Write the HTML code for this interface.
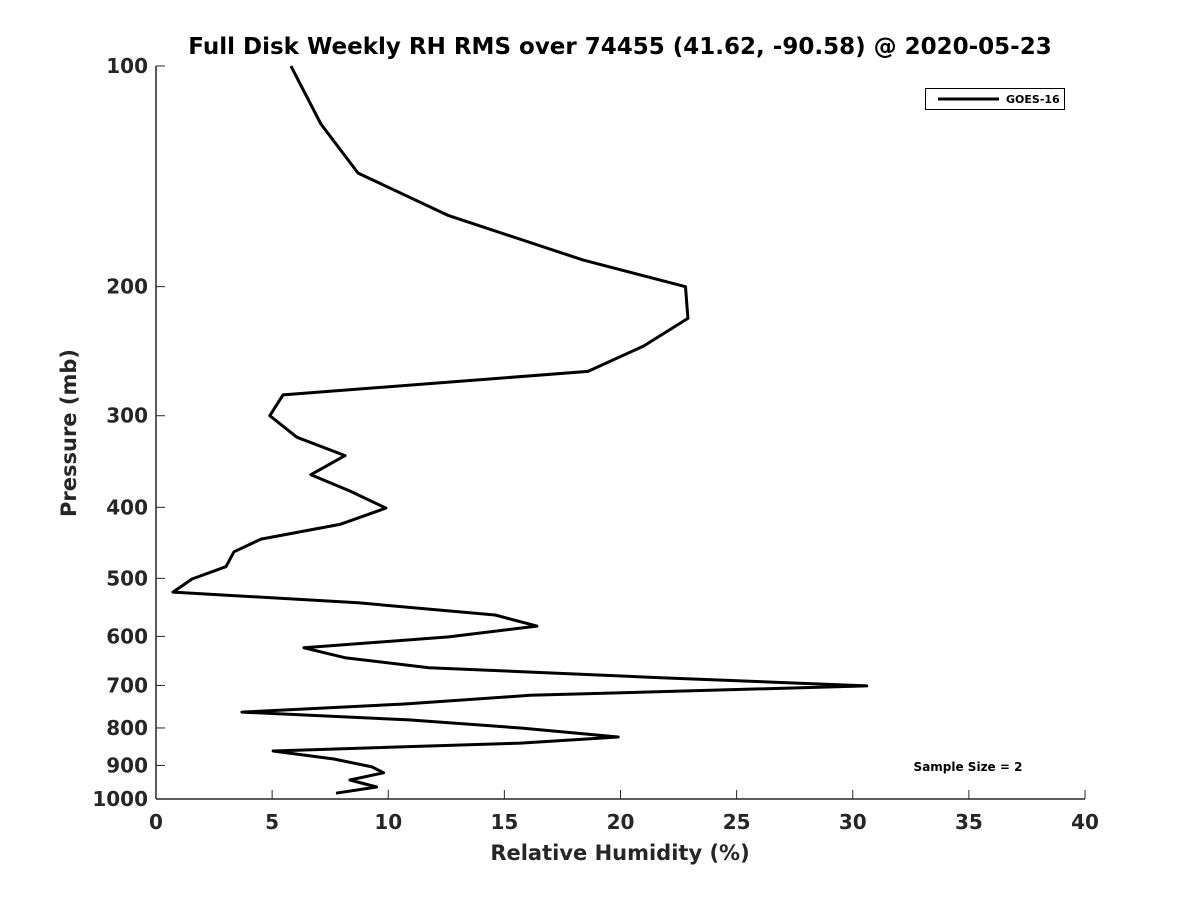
<!DOCTYPE html>
<html><head><meta charset="utf-8"><style>
body{margin:0;background:#fff}
svg text{font-family:"DejaVu Sans","Liberation Sans",sans-serif;font-weight:bold;fill:#262626}
</style></head><body>
<svg id="chart" width="1200" height="900">
<text x="620" y="54" font-size="23" text-anchor="middle" fill="#000" style="fill:#000">Full Disk Weekly RH RMS over 74455 (41.62, -90.58) @ 2020-05-23</text>
<g id="axes"></g>
<path id="line" fill="none" stroke="#000" stroke-width="3" stroke-linejoin="round"/>
<g>
<rect x="925.5" y="88.5" width="139" height="21" fill="#fff" stroke="#000" stroke-width="1"/>
<line x1="938" y1="99" x2="999" y2="99" stroke="#000" stroke-width="3"/>
<text x="1006" y="103" font-size="11" style="fill:#000">GOES-16</text>
</g>
<text x="968" y="771" font-size="12" text-anchor="middle" style="fill:#000">Sample Size = 2</text>
<text x="620" y="860" font-size="21" text-anchor="middle">Relative Humidity (%)</text>
<text x="76" y="433" font-size="21" text-anchor="middle" transform="rotate(-90 76 433)">Pressure (mb)</text>
</svg>
<script>
const pressures=[100,120,140,160,184,200,221,241,261,281,300,321,340,361,380,401,422,442,460,482,501,522,540,561,581,601,622,642,662,683,701,722,742,761,780,800,823,839,860,882,904,921,942,963,982];
const rhValues=[5.81,7.1,8.7,12.6,18.4,22.8,22.9,21.0,18.6,5.47,4.9,6.07,8.14,6.67,8.35,9.9,7.92,4.52,3.36,3.01,1.55,0.73,8.7,14.6,16.4,12.6,6.37,8.18,11.75,21.6,30.6,16.1,10.7,3.7,10.9,15.7,19.9,15.7,5.04,7.66,9.3,9.8,8.35,9.5,7.75];
const xTicks=[0,5,10,15,20,25,30,35,40];
const yTicks=[100,200,300,400,500,600,700,800,900,1000];
const X0=156,X1=1085,Y0=66,Y1=799;
const xs=v=>X0+(v/40)*(X1-X0);
const ys=p=>Y0+(Math.log10(p)-2)*(Y1-Y0);
const NS="http://www.w3.org/2000/svg";
const ax=document.getElementById('axes');
function mk(tag,attrs){const e=document.createElementNS(NS,tag);for(const k in attrs)e.setAttribute(k,attrs[k]);ax.appendChild(e);return e;}
const yl=mk('line',{x1:X0,y1:Y0,x2:X0,y2:Y1,stroke:'#262626','stroke-width':1.5});


const xl=mk('line',{x1:X0,y1:Y1,x2:X1,y2:Y1,stroke:'#262626','stroke-width':1.5});


xTicks.forEach(t=>{
 const x=xs(t);
 mk('line',{x1:x,y1:Y1,x2:x,y2:Y1-9,stroke:'#262626','stroke-width':1});
 const tx=mk('text',{x:x,y:Y1+30,'font-size':20,'text-anchor':'middle'});
 tx.textContent=t;
 
 
});
yTicks.forEach(t=>{
 const y=ys(t);
 mk('line',{x1:X0,y1:y,x2:X0+9,y2:y,stroke:'#262626','stroke-width':1});
 const tx=mk('text',{x:X0-8,y:y+7,'font-size':20,'text-anchor':'end'});
 tx.textContent=t;
 
 
});
document.getElementById('line').setAttribute('d',pressures.map((p,i)=>(i?'L':'M')+xs(rhValues[i]).toFixed(1)+','+ys(p).toFixed(1)).join(''));
</script>
</body></html>
